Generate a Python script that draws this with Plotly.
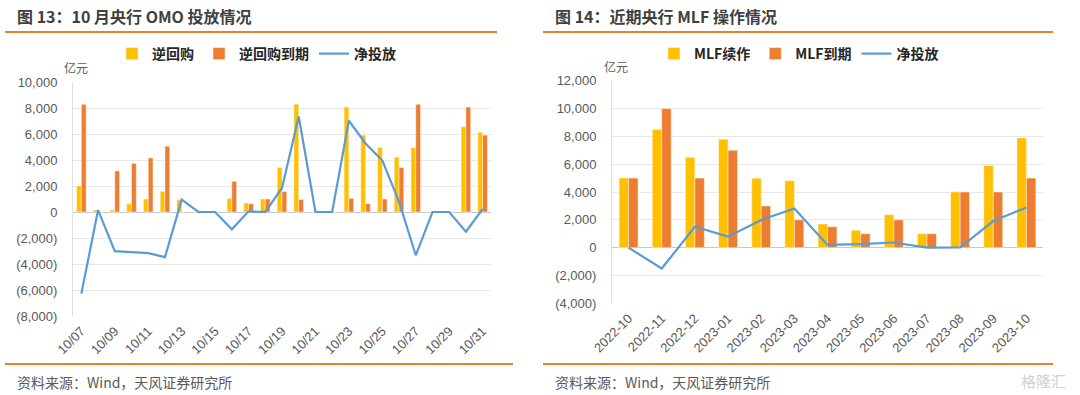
import plotly.graph_objects as go

# ---------------- Data: 图13 10月央行OMO投放情况 (亿元) ----------------
omo_dates = ["10/07", "10/08", "10/09", "10/10", "10/11", "10/12", "10/13", "10/14",
             "10/15", "10/16", "10/17", "10/18", "10/19", "10/20", "10/21", "10/22",
             "10/23", "10/24", "10/25", "10/26", "10/27", "10/28", "10/29", "10/30", "10/31"]
omo_repo = [2000, 150, 150, 640, 1000, 1590, 950, 0, 0, 1030, 690, 1000, 3420, 8300,
            0, 0, 8070, 5910, 4960, 4220, 4950, 0, 0, 6560, 6140]
omo_mature = [8280, 0, 3160, 3730, 4160, 5060, 0, 0, 0, 2360, 640, 1000, 1570, 950,
              0, 0, 1050, 640, 1000, 3420, 8280, 0, 0, 8070, 5910]
omo_net = [-6280, 150, -3010, -3090, -3160, -3470, 950, 0, 0, -1330, 50, 0, 1850, 7350,
           0, 0, 7020, 5270, 3960, 800, -3330, 0, 0, -1510, 230]
omo_tick_labels = omo_dates[::2]
omo_yticks = [-8000, -6000, -4000, -2000, 0, 2000, 4000, 6000, 8000, 10000]

# ---------------- Data: 图14 近期央行MLF操作情况 (亿元) ----------------
mlf_months = ["2022-10", "2022-11", "2022-12", "2023-01", "2023-02", "2023-03", "2023-04",
              "2023-05", "2023-06", "2023-07", "2023-08", "2023-09", "2023-10"]
mlf_roll = [5000, 8500, 6500, 7790, 4990, 4810, 1700, 1250, 2370, 1000, 4010, 5910, 7890]
mlf_mature = [5000, 10000, 5000, 7000, 3000, 2000, 1500, 1000, 2000, 1000, 4000, 4000, 5000]
mlf_net = [0, -1500, 1500, 790, 1990, 2810, 200, 250, 370, 0, 10, 1910, 2890]
mlf_yticks = [-4000, -2000, 0, 2000, 4000, 6000, 8000, 10000, 12000]


def fmt(v):
    return f"{v:,}" if v >= 0 else f"({-v:,})"


YELLOW = "#FFC000"
ORANGE = "#ED7D31"
BLUE = "#5B9BD5"
ACCENT = "#F07D2A"
CJK = "Noto Sans CJK SC"
NUM = "Liberation Sans, Arial"

fig = go.Figure()

bar_line = dict(color="rgba(255,240,225,0.9)", width=0.6)

fig.add_trace(go.Bar(x=omo_dates, y=omo_repo, name="逆回购", marker=dict(color=YELLOW, line=bar_line),
                     xaxis="x", yaxis="y", legend="legend"))
fig.add_trace(go.Bar(x=omo_dates, y=omo_mature, name="逆回购到期", marker=dict(color=ORANGE, line=bar_line),
                     xaxis="x", yaxis="y", legend="legend"))
fig.add_trace(go.Scatter(x=omo_dates, y=omo_net, name="净投放", mode="lines",
                         line=dict(color=BLUE, width=2.2), xaxis="x", yaxis="y", legend="legend"))

fig.add_trace(go.Bar(x=mlf_months, y=mlf_roll, name="MLF续作", marker=dict(color=YELLOW, line=bar_line),
                     xaxis="x2", yaxis="y2", legend="legend2"))
fig.add_trace(go.Bar(x=mlf_months, y=mlf_mature, name="MLF到期", marker=dict(color=ORANGE, line=bar_line),
                     xaxis="x2", yaxis="y2", legend="legend2"))
fig.add_trace(go.Scatter(x=mlf_months, y=mlf_net, name="净投放", mode="lines",
                         line=dict(color=BLUE, width=2.2), xaxis="x2", yaxis="y2", legend="legend2"))

W, H = 1080, 395


def px(x):
    return x / W


def py(y):
    return 1 - y / H


tickfont = dict(family=NUM, size=13, color="#595959")
grid = "#E8E8E8"

fig.update_layout(
    width=W, height=H,
    margin=dict(l=0, r=0, t=0, b=0, autoexpand=False),
    paper_bgcolor="white", plot_bgcolor="white",
    barmode="group", bargap=0.43, bargroupgap=0,
    font=dict(family=CJK, color="#404040"),
    xaxis=dict(domain=[px(73), px(491)], anchor="y", type="category", automargin=False,
               tickmode="array", tickvals=omo_tick_labels, ticktext=omo_tick_labels,
               tickangle=-45, tickfont=tickfont, showgrid=False, showline=False,
               ticks="", ticklabelstandoff=4),
    yaxis=dict(domain=[py(316), py(82)], anchor="x", range=[-8000, 10000], automargin=False,
               tickmode="array", tickvals=omo_yticks, ticktext=[fmt(v) for v in omo_yticks],
               tickfont=tickfont, gridcolor=grid, gridwidth=1,
               zeroline=True, zerolinecolor="#C8C8C8", zerolinewidth=1,
               showline=True, linecolor="#E0E0E0", linewidth=1, ticks="",
               ticklabelstandoff=12),
    xaxis2=dict(domain=[px(612), px(1043)], anchor="y2", type="category", automargin=False,
                tickangle=-45, tickfont=tickfont, showgrid=False, showline=False,
                ticks="", ticklabelstandoff=4),
    yaxis2=dict(domain=[py(303.3), py(80.7)], anchor="x2", range=[-4000, 12000], automargin=False,
                tickmode="array", tickvals=mlf_yticks, ticktext=[fmt(v) for v in mlf_yticks],
                tickfont=tickfont, gridcolor=grid, gridwidth=1,
                zeroline=True, zerolinecolor="#C8C8C8", zerolinewidth=1,
                showline=True, linecolor="#E0E0E0", linewidth=1, ticks="",
                ticklabelstandoff=12),
    legend=dict(orientation="h", x=px(112), y=py(54), xanchor="left", yanchor="middle",
                font=dict(family=CJK, size=14, color="#262626", weight="bold"),
                bgcolor="rgba(0,0,0,0)", itemwidth=30, tracegroupgap=0),
    legend2=dict(orientation="h", x=px(654), y=py(54), xanchor="left", yanchor="middle",
                 font=dict(family=CJK, size=14, color="#262626", weight="bold"),
                 bgcolor="rgba(0,0,0,0)", itemwidth=30, tracegroupgap=0),
)

# decorative orange rules
for x0, x1, y in [(5, 497, 32), (5, 513, 364), (543, 1053, 32), (543, 1053, 364)]:
    fig.add_shape(type="line", xref="paper", yref="paper", x0=px(x0), x1=px(x1),
                  y0=py(y), y1=py(y), line=dict(color=ACCENT, width=1.8))

annots = [
    dict(text="<b>图 13：10 月央行 OMO 投放情况</b>", x=px(15), y=py(16), size=16, color="#404040"),
    dict(text="<b>图 14：近期央行 MLF 操作情况</b>", x=px(553), y=py(16), size=16, color="#404040"),
    dict(text="资料来源：Wind，天风证券研究所", x=px(15), y=py(382), size=14, color="#595959"),
    dict(text="资料来源：Wind，天风证券研究所", x=px(553), y=py(382), size=14, color="#595959"),
    dict(text="亿元", x=px(62), y=py(67), size=12, color="#595959"),
    dict(text="亿元", x=px(602), y=py(66), size=12, color="#595959"),
]
for a in annots:
    fig.add_annotation(text=a["text"], x=a["x"], y=a["y"], xref="paper", yref="paper",
                       xanchor="left", yanchor="middle", showarrow=False,
                       font=dict(family=CJK, size=a["size"], color=a["color"]))

fig.add_annotation(text="格隆汇", x=px(1068), y=py(380), xref="paper", yref="paper",
                   xanchor="right", yanchor="middle", showarrow=False,
                   font=dict(family=CJK, size=15, color="#D0D0D0"))

fig.write_html("out.html", config={"displayModeBar": False},
               post_script="document.body.style.margin='0px';")
